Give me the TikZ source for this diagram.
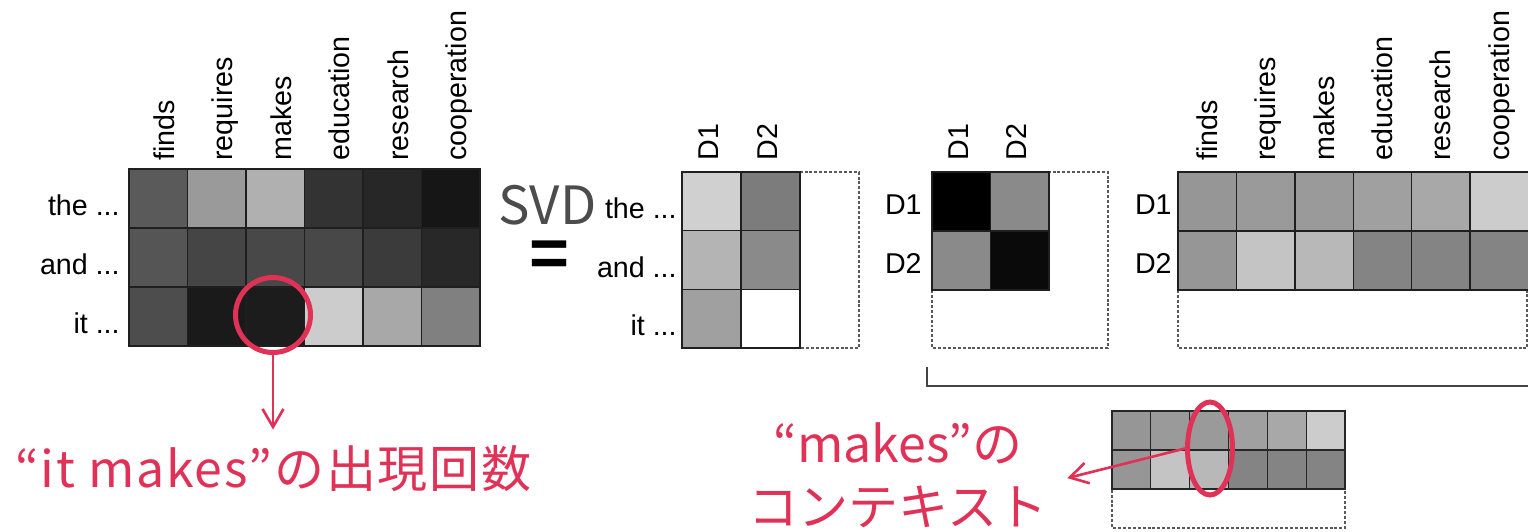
\documentclass[tikz,border=0pt]{standalone}
\usepackage{fontspec}
\setmainfont{Liberation Sans}
\newfontfamily\jpfont{Noto Sans CJK JP}
\newfontfamily\jpwide[LetterSpace=3.5]{Noto Sans CJK JP}
\usetikzlibrary{arrows.meta,shapes.geometric}
\definecolor{hl}{RGB}{224,50,86}
\definecolor{brk}{RGB}{68,68,68}
\begin{document}
\begin{tikzpicture}[x=0.02cm,y=-0.02cm,
  cell/.style={draw=black!88, line width=0.8pt},
  smallcell/.style={draw=black!85, line width=0.6pt},
  dashframe/.style={draw=black!65, line width=0.8pt, dash pattern=on 1.7pt off 1.1pt},
  lab/.style={font=\fontsize{16.3}{18}\selectfont, inner sep=0pt, text=black},
  collab/.style={lab, rotate=90, anchor=base west},
  rowlab/.style={lab, anchor=base east},
  redring/.style={draw=hl, line width=2.85pt, inner sep=0pt},
  redarrow/.style={draw=hl, line width=1.5pt, -{Straight Barb[length=0.36cm,width=0.42cm,line width=1.5pt]}},
  redtext/.style={font=\jpfont\fontsize{28.5}{35.8}\selectfont, text=hl, inner sep=0pt}
]
\useasboundingbox (0,0) rectangle (1528,531);

% ---------- left co-occurrence matrix ----------
\foreach \r/\vals in {0/{90,154,176,51,39,22},1/{85,69,72,72,59,40},2/{77,26,28,204,168,128}} {
  \foreach \g [count=\c from 0] in \vals {
    \filldraw[cell, fill={rgb,255:red,\g;green,\g;blue,\g}] ({129+\c*58.5},{169+\r*59}) rectangle ++(58.5,59);
  }
}
\foreach \w [count=\c from 0] in {finds,requires,makes,education,research,cooperation}
  \node[collab] (lw\c) at ({129+(\c+0.5)*58.5+16},161) {\w};
\node[rowlab] (lr0) at (120,{169+0.5*59+17}) {the ...};
\node[rowlab] (lr1) at (120,{169+1.5*59+17}) {and ...};
\node[rowlab] (lr2) at (120,{169+2.5*59+17}) {it ...};

% ---------- SVD = ----------
\node[inner sep=0pt, anchor=base west, text=black!70, font=\jpfont\fontsize{30}{33}\selectfont] (svd) at (498,224) {SVD};
\node[inner sep=0pt, anchor=base, font=\bfseries\fontsize{39}{42}\selectfont] (eq) at (550,276) {=};

% ---------- U ----------
\draw[dashframe] (682,172) rectangle (859,348);
\foreach \r/\vals in {0/{208,124},1/{180,138},2/{160,255}} {
  \foreach \g [count=\c from 0] in \vals {
    \filldraw[cell, fill={rgb,255:red,\g;green,\g;blue,\g}] ({682+\c*59},{172+\r*58.7}) rectangle ++(59,58.7);
  }
}
\foreach \w [count=\c from 0] in {D1,D2}
  \node[collab] (uc\c) at ({682+(\c+0.5)*59+7},161) {\w};
\node[rowlab] (ur0) at (677,{172+0.5*58.7+17}) {the ...};
\node[rowlab] (ur1) at (677,{172+1.5*58.7+17}) {and ...};
\node[rowlab] (ur2) at (677,{172+2.5*58.7+17}) {it ...};

% ---------- Sigma ----------
\draw[dashframe] (932,172) rectangle (1108,348);
\foreach \r/\vals in {0/{0,138},1/{138,10}} {
  \foreach \g [count=\c from 0] in \vals {
    \filldraw[cell, fill={rgb,255:red,\g;green,\g;blue,\g}] ({932+\c*58.5},{172+\r*59}) rectangle ++(58.5,59);
  }
}
\foreach \w [count=\c from 0] in {D1,D2}
  \node[collab] (sc\c) at ({932+(\c+0.5)*58.5+7},161) {\w};
\foreach \w [count=\r from 0] in {D1,D2}
  \node[rowlab] (sr\r) at (922,{172+(\r+0.5)*59+12.5}) {\w};

% ---------- V^T ----------
\draw[dashframe] (1178,172) rectangle (1527,348);
\foreach \r/\vals in {0/{150,154,154,160,168,204},1/{150,196,184,132,132,132}} {
  \foreach \g [count=\c from 0] in \vals {
    \filldraw[cell, fill={rgb,255:red,\g;green,\g;blue,\g}] ({1178+\c*58.4},{172+\r*59}) rectangle ++(58.4,59);
  }
}
\foreach \w [count=\c from 0] in {finds,requires,makes,education,research,cooperation}
  \node[collab] (vc\c) at ({1178+(\c+0.5)*58.4+10},161) {\w};
\foreach \w [count=\r from 0] in {D1,D2}
  \node[rowlab] (vr\r) at (1172,{172+(\r+0.5)*59+12.5}) {\w};

% ---------- bracket ----------
\draw[brk, line width=1.1pt] (927,367) |- (1530,386);

% ---------- small V^T copy ----------
\draw[dashframe, line width=0.6pt] (1112,411) rectangle (1345,528);
\foreach \r/\vals in {0/{150,154,154,160,168,204},1/{150,196,184,132,132,132}} {
  \foreach \g [count=\c from 0] in \vals {
    \filldraw[smallcell, fill={rgb,255:red,\g;green,\g;blue,\g}] ({1112+\c*38.83},{411+\r*39}) rectangle ++(38.83,39);
  }
}

% ---------- highlights ----------
\node[redring, circle, minimum size=1.5cm] (circ) at (273,315) {};
\node[redtext, anchor=base west, font=\jpwide\fontsize{28.5}{35.8}\selectfont] (lbl1) at (15,487) {“it makes”の出現回数};
\draw[redarrow, shorten >=0.3cm] (circ.south) -- (circ.south |- lbl1.north);

\node[redring, ellipse, minimum width=0.9cm, minimum height=1.86cm] (ell) at (1210,448.5) {};
\node[redtext, align=center] (lbl2) at (898,475) {“makes”の\\コンテキスト};
\draw[redarrow, shorten >=0.4cm] (ell.west) -- ([yshift=-0.16cm]lbl2.east);
\end{tikzpicture}
\end{document}
